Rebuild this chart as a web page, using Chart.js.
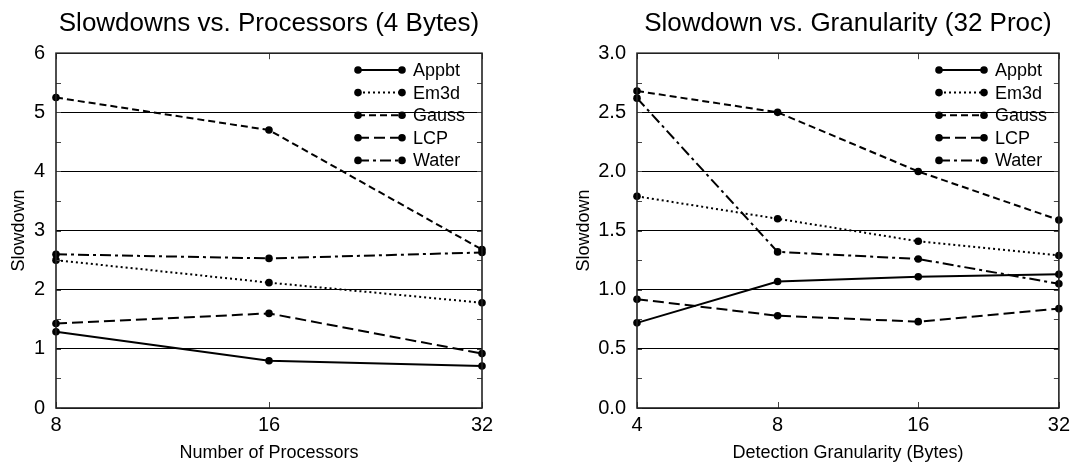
<!DOCTYPE html>
<html>
<head>
<meta charset="utf-8">
<script src="https://cdn.jsdelivr.net/npm/chart.js@4/dist/chart.umd.min.js"></script>
<style>
  html, body { margin: 0; padding: 0; background: #fff; }
  #wrap { position: relative; width: 1075px; height: 464px; }
  #left  { position: absolute; left: 0;     top: 0; }
  #right { position: absolute; left: 537px; top: 0; }
</style>
</head>
<body>
<div id="wrap">
  <canvas id="left"  width="537" height="464"></canvas>
  <canvas id="right" width="538" height="464"></canvas>
</div>
<script>
// ── Data ──────────────────────────────────────────────────
const seriesNames = ['Appbt', 'Em3d', 'Gauss', 'LCP', 'Water'];

// Slowdowns vs. number of processors (4-byte granularity)
const procLabels = ['8', '16', '32'];
const procAppbt  = [1.29, 0.80, 0.71];
const procEm3d   = [2.50, 2.12, 1.78];
const procGauss  = [5.25, 4.70, 2.68];
const procLCP    = [1.43, 1.60, 0.92];
const procWater  = [2.60, 2.53, 2.63];

// Slowdown vs. detection granularity (32 processors)
const granLabels = ['4', '8', '16', '32'];
const granAppbt  = [0.72, 1.07, 1.11, 1.13];
const granEm3d   = [1.79, 1.60, 1.41, 1.29];
const granGauss  = [2.68, 2.50, 2.00, 1.59];
const granLCP    = [0.92, 0.78, 0.73, 0.84];
const granWater  = [2.62, 1.32, 1.26, 1.05];

// ── Line styles per series ────────────────────────────────
const dashes = {
    Appbt: [],
    Em3d:  [2, 3],
    Gauss: [7, 4],
    LCP:   [11, 5],
    Water: [11, 4, 3, 4]
};

const FONT = "'Liberation Sans', Arial, Helvetica, sans-serif";

function makeDatasets(values) {
    return seriesNames.map((name, i) => ({
        label: name,
        data: values[i],
        borderColor: '#000',
        backgroundColor: '#000',
        borderWidth: 2,
        borderDash: dashes[name],
        pointRadius: 3.8,
        pointBackgroundColor: '#000',
        pointBorderWidth: 0,
        tension: 0,
        fill: false,
        clip: false
    }));
}

// ── Frame, inner ticks and legend ─────────────────────────
const framePlugin = {
    id: 'frame',
    afterDraw(chart, args, opts) {
        const ctx = chart.ctx;
        const a = chart.chartArea;
        const x = chart.scales.x, y = chart.scales.y;
        const seg = (x1, y1, x2, y2) => { ctx.beginPath(); ctx.moveTo(x1, y1); ctx.lineTo(x2, y2); ctx.stroke(); };
        ctx.save();

        // minor ticks on both vertical edges
        ctx.strokeStyle = '#444';
        ctx.lineWidth = 1;
        for (let v = y.min; v <= y.max + 1e-9; v += opts.minorStep) {
            const py = Math.round(y.getPixelForValue(v)) + 0.5;
            seg(a.left, py, a.left + 5, py);
            seg(a.right - 5, py, a.right, py);
        }
        // category ticks on top and bottom edges
        x.ticks.forEach((t, i) => {
            const px = Math.round(x.getPixelForTick(i)) + 0.5;
            seg(px, a.bottom, px, a.bottom - 6);
            seg(px, a.top, px, a.top + 6);
        });

        // frame
        ctx.strokeStyle = '#222';
        ctx.lineWidth = 1.6;
        ctx.strokeRect(a.left, a.top, a.right - a.left, a.bottom - a.top);

        // legend
        const lg = opts.legend;
        ctx.font = '18px ' + FONT;
        ctx.textBaseline = 'middle';
        ctx.textAlign = 'left';
        chart.data.datasets.forEach((ds, i) => {
            const ly = lg.y0 + i * lg.dy;
            ctx.strokeStyle = '#000';
            ctx.lineWidth = 2;
            ctx.setLineDash(ds.borderDash);
            seg(lg.x1, ly, lg.x2, ly);
            ctx.setLineDash([]);
            ctx.fillStyle = '#000';
            [lg.x1, lg.x2].forEach(px => {
                ctx.beginPath();
                ctx.arc(px, ly, 3.8, 0, Math.PI * 2);
                ctx.fill();
            });
            ctx.fillText(ds.label, lg.tx, ly + 1);
        });
        ctx.restore();
    }
};

function buildChart(id, cfg) {
    const ctx = document.getElementById(id).getContext('2d');
    return new Chart(ctx, {
        type: 'line',
        data: { labels: cfg.labels, datasets: makeDatasets(cfg.values) },
        options: {
            responsive: false,
            animation: false,
            events: [],
            layout: { padding: cfg.padding },
            plugins: {
                legend: { display: false },
                tooltip: { enabled: false },
                title: {
                    display: true,
                    text: cfg.title,
                    fullSize: false,
                    color: '#000',
                    font: { family: FONT, size: 26, weight: 'normal' },
                    padding: { top: 8, bottom: 14 }
                },
                frame: { minorStep: cfg.minorStep, legend: cfg.legend }
            },
            scales: {
                x: {
                    type: 'category',
                    offset: false,
                    grid: { display: false, drawTicks: false },
                    border: { display: false },
                    ticks: { color: '#000', font: { family: FONT, size: 20 }, padding: 5, maxRotation: 0 },
                    title: {
                        display: true,
                        text: cfg.xTitle,
                        color: '#000',
                        font: { family: FONT, size: 18 },
                        padding: { top: 0, bottom: 0 }
                    },
                    afterFit: s => { s.height = 56; }
                },
                y: {
                    min: 0,
                    max: cfg.yMax,
                    grid: { color: '#000', lineWidth: 1, drawTicks: false },
                    border: { display: false },
                    ticks: {
                        stepSize: cfg.yStep,
                        color: '#000',
                        padding: 11,
                        font: { family: FONT, size: 20 },
                        callback: v => v.toFixed(cfg.yDigits)
                    },
                    title: {
                        display: true,
                        text: 'Slowdown',
                        color: '#000',
                        font: { family: FONT, size: 18 },
                        padding: { top: 8, bottom: 0 }
                    },
                    afterFit: s => { s.width = cfg.yWidth; }
                }
            }
        },
        plugins: [framePlugin]
    });
}

buildChart('left', {
    labels: procLabels,
    values: [procAppbt, procEm3d, procGauss, procLCP, procWater],
    title: 'Slowdowns vs. Processors (4 Bytes)',
    xTitle: 'Number of Processors',
    yMax: 6, yStep: 1, yDigits: 0, minorStep: 0.5,
    yWidth: 56,
    padding: { left: 0, right: 55, top: 0, bottom: 0 },
    legend: { x1: 358, x2: 402, tx: 413, y0: 70, dy: 22.6 }
});

buildChart('right', {
    labels: granLabels,
    values: [granAppbt, granEm3d, granGauss, granLCP, granWater],
    title: 'Slowdown vs. Granularity (32 Proc)',
    xTitle: 'Detection Granularity (Bytes)',
    yMax: 3, yStep: 0.5, yDigits: 1, minorStep: 0.25,
    yWidth: 72,
    padding: { left: 28, right: 13, top: 0, bottom: 0 },
    legend: { x1: 402, x2: 447, tx: 458, y0: 70, dy: 22.6 }
});
</script>
</body>
</html>
